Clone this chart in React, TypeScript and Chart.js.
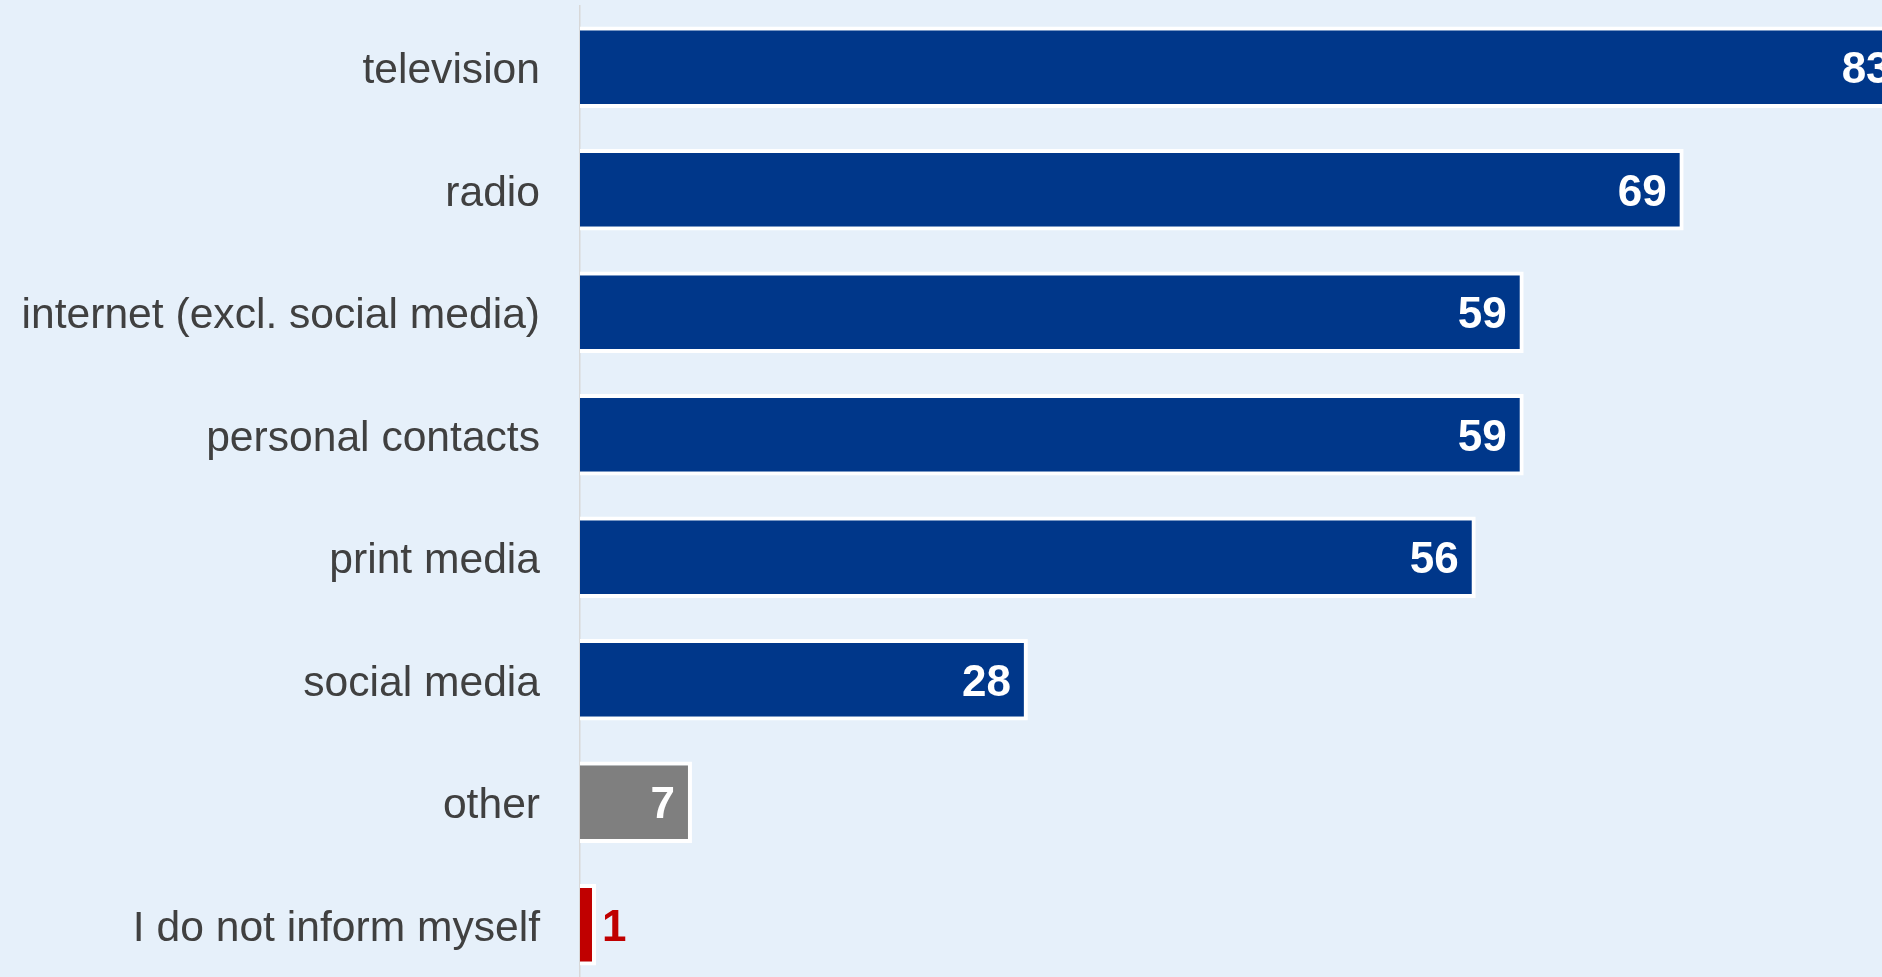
import React, { useEffect, useRef } from "react";
import { Chart, registerables } from "chart.js";

Chart.register(...registerables);

const categories = [
  "television",
  "radio",
  "internet (excl. social media)",
  "personal contacts",
  "print media",
  "social media",
  "other",
  "I do not inform myself",
];
const values = [83, 69, 59, 59, 56, 28, 7, 1];
const barColors = ["#00378A", "#00378A", "#00378A", "#00378A", "#00378A", "#00378A", "#7F7F7F", "#C00000"];
const labelColors = ["#FFFFFF", "#FFFFFF", "#FFFFFF", "#FFFFFF", "#FFFFFF", "#FFFFFF", "#FFFFFF", "#C00000"];
const labelInside = [true, true, true, true, true, true, true, false];

const FONT = '"Liberation Sans", Arial, Helvetica, sans-serif';

const valueLabels = {
  id: "valueLabels",
  afterDatasetsDraw(chart: any) {
    const ctx = chart.ctx;
    const meta = chart.getDatasetMeta(0);
    ctx.save();
    ctx.font = `bold 44px ${FONT}`;
    ctx.textBaseline = "middle";
    meta.data.forEach((bar: any, i: number) => {
      const v = values[i];
      ctx.fillStyle = labelColors[i];
      if (labelInside[i]) {
        ctx.textAlign = "right";
        ctx.fillText(String(v), bar.x - 17, bar.y + 4);
      } else {
        ctx.textAlign = "left";
        ctx.fillText(String(v), bar.x + 6, bar.y + 4);
      }
    });
    ctx.restore();
  },
};

export default function App() {
  const canvasRef = useRef<HTMLCanvasElement | null>(null);

  useEffect(() => {
    if (!canvasRef.current) return;
    const chart = new Chart(canvasRef.current, {
      type: "bar",
      data: {
        labels: categories,
        datasets: [
          {
            data: values,
            backgroundColor: barColors,
            borderColor: "#FFFFFF",
            borderWidth: 4,
            borderSkipped: "start",
            categoryPercentage: 1,
            barPercentage: 0.667,
          },
        ],
      },
      options: {
        indexAxis: "y",
        animation: false,
        responsive: true,
        maintainAspectRatio: false,
        layout: { padding: { top: 6, bottom: 4, left: 0, right: 0 } },
        plugins: {
          legend: { display: false },
          tooltip: { enabled: false },
        },
        scales: {
          x: {
            display: false,
            min: 0,
            max: 81.4,
          },
          y: {
            grid: { display: false, drawTicks: false },
            border: { display: true, color: "#D8D8D8", width: 1.5 },
            ticks: {
              color: "#404040",
              font: { family: FONT, size: 42.6 },
              padding: 40,
              labelOffset: 4,
            },
            afterFit(scale: any) {
              scale.width = 580;
              scale.paddingTop = 0;
              scale.paddingBottom = 0;
            },
          },
        },
      },
      plugins: [valueLabels],
    });
    return () => chart.destroy();
  }, []);

  return (
    <div
      style={{
        position: "fixed",
        left: 0,
        top: 0,
        width: 1882,
        height: 977,
        overflow: "hidden",
        background: "#E6F0FA",
      }}
    >
      <div style={{ position: "relative", width: 1882, height: 990 }}>
        <canvas ref={canvasRef} />
      </div>
    </div>
  );
}
